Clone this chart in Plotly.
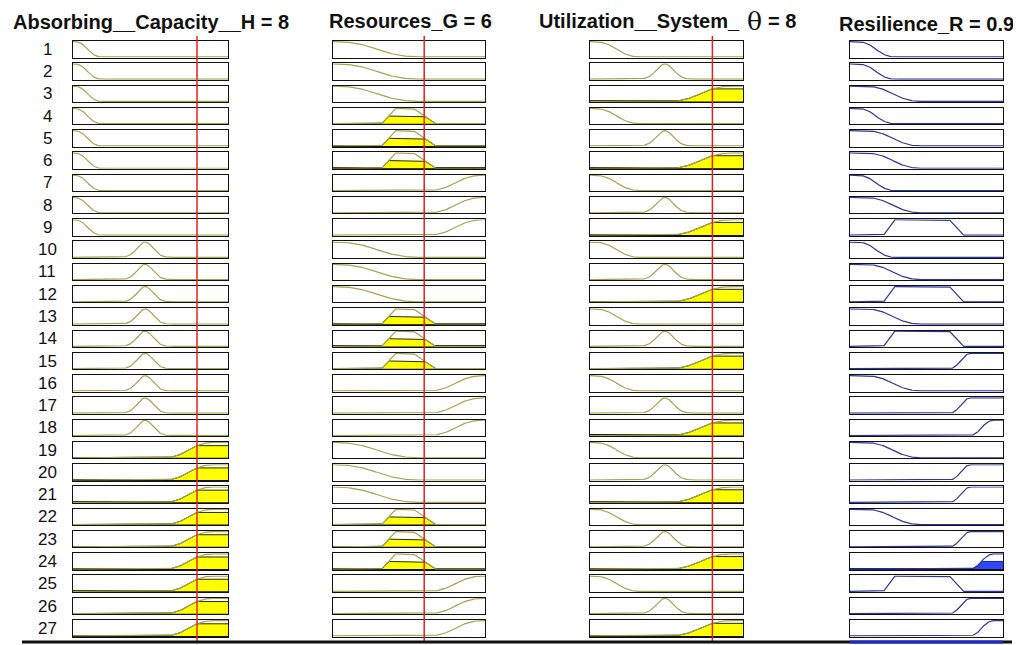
import numpy as np
import plotly.graph_objects as go

# ---------------- data ----------------
input_titles = ["Absorbing__Capacity__H = 8", "Resources_G = 6", "Utilization__System_θ = 8"]
input_values = [8, 6, 8]
output_title = "Resilience_R = 0.9"
output_value = 0.9

# membership functions (type, params) for each variable
H_mfs = [("zmf", [0.1, 1.8]), ("gaussmf", [0.5, 4.65]), ("smf", [5.9, 9.0])]
G_mfs = [("zmf", [0.2, 5.6]), ("trapmf", [3.2, 4.1, 5.3, 6.7]), ("smf", [6.3, 9.8])]
T_mfs = [("zmf", [0.3, 3.2]), ("gaussmf", [0.55, 4.9]), ("smf", [5.2, 9.2])]
R_mfs = [("zmf", [0.05, 0.29]), ("zmf", [0.10, 0.46]), ("trapmf", [0.22, 0.29, 0.65, 0.74]),
         ("smf", [0.65, 0.79]), ("smf", [0.78, 0.94])]

# rule base: antecedent MF index for H, G, theta and consequent MF index for R
rule_numbers = list(range(1, 28))
rule_H = [0]*9 + [1]*9 + [2]*9
rule_G = [0, 0, 0, 1, 1, 1, 2, 2, 2] * 3
rule_T = [0, 1, 2] * 9
rule_R = [0, 0, 1, 0, 1, 1, 0, 1, 2,
          0, 1, 2, 1, 2, 3, 1, 3, 4,
          1, 3, 3, 1, 3, 4, 2, 3, 4]

in_ranges = [(0, 10), (0, 10), (0, 10)]
out_range = (0, 1)


def mf_eval(kind, p, x):
    x = np.asarray(x, dtype=float)
    if kind == "gaussmf":
        s, c = p
        return np.exp(-((x - c) ** 2) / (2 * s * s))
    if kind == "trapmf":
        a, b, c, d = p
        return np.clip(np.minimum((x - a) / (b - a), (d - x) / (d - c)), 0, 1)
    if kind in ("smf", "zmf"):
        a, b = p
        m = (a + b) / 2
        y = np.where(x <= a, 0.0,
            np.where(x <= m, 2 * ((x - a) / (b - a)) ** 2,
            np.where(x <= b, 1 - 2 * ((x - b) / (b - a)) ** 2, 1.0)))
        return y if kind == "smf" else 1 - y
    raise ValueError(kind)


# ---------------- layout geometry (screen pixels) ----------------
OFF = 8                      # page body margin
W, Hpx = 1021 - OFF, 645 - OFF


def px_x(px):
    return (px - OFF) / W


def px_y(py):
    return 1 - (py - OFF) / Hpx


col_px = [(73, 228), (333, 485), (590, 743), (850, 1003)]
row_top0, row_pitch, box_h = 41.0, 22.27, 16.5

in_line = "#a3a352"
in_fill = "#ffff00"
out_line = "#2a3598"
out_fill = "#3344ff"

fig = go.Figure()
layout = {}
ax_i = 0
all_mfs = [H_mfs, G_mfs, T_mfs]
rule_in = [rule_H, rule_G, rule_T]

# membership degrees of the crisp inputs
deg = [[float(mf_eval(k, p, v)) for (k, p) in mfs] for mfs, v in zip(all_mfs, input_values)]

first_axis_of_col = {}
for r_i, rn in enumerate(rule_numbers):
    top = row_top0 + r_i * row_pitch
    ydom = [px_y(top + box_h), px_y(top)]
    strengths = []
    for c in range(4):
        ax_i += 1
        xs = "x" if ax_i == 1 else f"x{ax_i}"
        ys = "y" if ax_i == 1 else f"y{ax_i}"
        xname = "xaxis" if ax_i == 1 else f"xaxis{ax_i}"
        yname = "yaxis" if ax_i == 1 else f"yaxis{ax_i}"
        first_axis_of_col.setdefault(c, (xs, ys))
        rng = in_ranges[c] if c < 3 else out_range
        xg = np.linspace(rng[0], rng[1], 301)
        if c < 3:
            kind, p = all_mfs[c][rule_in[c][r_i]]
            yv = mf_eval(kind, p, xg)
            level = deg[c][rule_in[c][r_i]]
            if level < 1e-3:
                level = 0.0
            strengths.append(level)
            if level > 0:
                fig.add_trace(go.Scatter(x=xg, y=np.minimum(yv, level), mode="lines",
                                         fill="tozeroy", fillcolor=in_fill,
                                         line=dict(color="#2a2a00", width=1),
                                         xaxis=xs, yaxis=ys, hoverinfo="skip", showlegend=False))
            fig.add_trace(go.Scatter(x=xg, y=yv, mode="lines", line=dict(color=in_line, width=1.2),
                                     xaxis=xs, yaxis=ys, hoverinfo="skip", showlegend=False))
        else:
            kind, p = R_mfs[rule_R[r_i]]
            yv = mf_eval(kind, p, xg)
            fire = min(strengths)
            if fire > 0:
                fig.add_trace(go.Scatter(x=xg, y=np.minimum(yv, fire), mode="lines",
                                         fill="tozeroy", fillcolor=out_fill,
                                         line=dict(color="#1020c0", width=1),
                                         xaxis=xs, yaxis=ys, hoverinfo="skip", showlegend=False))
            fig.add_trace(go.Scatter(x=xg, y=yv, mode="lines", line=dict(color=out_line, width=1.2),
                                     xaxis=xs, yaxis=ys, hoverinfo="skip", showlegend=False))
        x0, x1 = col_px[c]
        layout[xname] = dict(domain=[px_x(x0), px_x(x1)], range=list(rng), showline=True, mirror=True,
                             linecolor="#111111", linewidth=1.2, showticklabels=False, ticks="",
                             showgrid=False, zeroline=False, fixedrange=True,
                             anchor=ys, layer="above traces")
        layout[yname] = dict(domain=ydom, range=[-0.04, 1.04], showline=True, mirror=True,
                             linecolor="#111111", linewidth=1.2, showticklabels=False, ticks="",
                             showgrid=False, zeroline=True, zerolinecolor="#111111", zerolinewidth=2,
                             fixedrange=True, anchor=xs, layer="above traces")

annotations = []
# row numbers
for r_i, rn in enumerate(rule_numbers):
    yc = row_top0 + r_i * row_pitch + box_h / 2
    annotations.append(dict(x=px_x(47), y=px_y(yc), xref="paper", yref="paper", text=str(rn),
                            showarrow=False, xanchor="center", yanchor="middle",
                            font=dict(family="Liberation Sans, Arial", size=17, color="#111111")))

title_font = dict(family="Liberation Sans, Arial", size=20, color="#111111")


def add_title(text, tx, ty, anchor="center", font=title_font, pad=1):
    annotations.append(dict(x=px_x(tx), y=px_y(ty), xref="paper", yref="paper", text=text,
                            showarrow=False, xanchor=anchor, yanchor="middle", font=font,
                            borderpad=pad))


# titles
add_title("<b>" + input_titles[0] + "</b>", 151, 22)
add_title("<b>" + input_titles[1] + "</b>", 410, 21)
# theta title: the Greek letter is drawn larger, as in the reference
t_head, t_tail = input_titles[2].split("θ")
add_title("<b>" + t_head + "</b>", 742, 21, anchor="right")
add_title("θ", 754, 21, anchor="center",
          font=dict(family="DejaVu Serif", size=25, color="#111111"), pad=3)
add_title("<b>" + t_tail.strip() + "</b>", 766, 21, anchor="left")
add_title("<b>" + output_title + "</b>", 926, 24)

shapes = []
# red input-value lines
for c in range(3):
    xs, ys = first_axis_of_col[c]
    shapes.append(dict(type="line", xref=xs, yref="paper", x0=input_values[c], x1=input_values[c],
                       y0=px_y(641), y1=px_y(36), line=dict(color="#e02020", width=1.5)))
# bottom edge of the (cut off) aggregate row
shapes.append(dict(type="line", xref="paper", yref="paper", x0=px_x(22), x1=px_x(1012),
                   y0=px_y(642), y1=px_y(642), line=dict(color="#111111", width=3)))
shapes.append(dict(type="line", xref="paper", yref="paper", x0=px_x(col_px[3][0]), x1=px_x(col_px[3][1]),
                   y0=px_y(642), y1=px_y(642), line=dict(color="#1a2ad0", width=3)))

fig.update_layout(width=W, height=Hpx, margin=dict(l=0, r=0, t=0, b=0),
                  paper_bgcolor="white", plot_bgcolor="white", showlegend=False,
                  annotations=annotations, shapes=shapes, **layout)

fig.write_html("out.html", config={"displayModeBar": False})
